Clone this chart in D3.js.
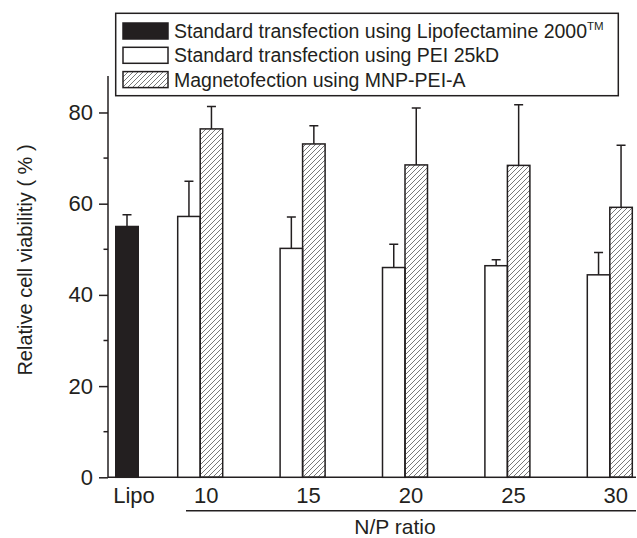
<!DOCTYPE html>
<html lang="en">
<head>
  <meta charset="UTF-8">
  <script src="https://d3js.org/d3.v7.min.js"></script>
  <style>
body{ margin:0; background:#fff; }
text{ font-family: "Liberation Sans", Arial, sans-serif; fill:#231f20; }
.axis path, .axis line{ stroke:#231f20; stroke-width:1.5px; }
.bar{ stroke:#231f20; stroke-width:1.5px; }
.err{ stroke:#231f20; stroke-width:1.5px; fill:none; }
</style>
</head>
<body>
<svg width="637" height="538"></svg>
<script>
// data
const ratios = ["10", "15", "20", "25", "30"];
const lipoVal = 55.0, lipoErr = 2.6;
const peiVals = [57.2, 50.2, 46.0, 46.4, 44.4];
const peiErr  = [7.7, 6.9, 5.1, 1.3, 4.9];
const mnpVals = [76.4, 73.1, 68.5, 68.4, 59.2];
const mnpErr  = [4.9, 4.0, 12.5, 13.3, 13.6];
const yTicks = [0, 20, 40, 60, 80];
const yMinor = [10, 30, 50, 70];
const legendLabels = [
  "Standard transfection using Lipofectamine 2000",
  "Standard transfection using PEI 25kD",
  "Magnetofection using MNP-PEI-A"
];

const svg = d3.select("svg");
const mLeft = 108, mRight = 636, mTop = 76, mBottom = 477.3;

// hatch pattern
const defs = svg.append("defs");
defs.append("pattern")
  .attr("id", "hatch")
  .attr("patternUnits", "userSpaceOnUse")
  .attr("width", 5).attr("height", 5)
  .append("path")
  .attr("d", "M-1,1 l2,-2 M0,5 l5,-5 M4,6 l2,-2")
  .attr("stroke", "#555").attr("stroke-width", 0.8);

const y = d3.scaleLinear().domain([0, 88]).range([mBottom, mTop]);
const xLipo = d3.scaleBand().domain(["Lipo"]).range([mLeft, 146]);
const xRatio = d3.scaleBand().domain(ratios).range([149, 661]);
const barW = 22.5;

// y axis
const yAxis = svg.append("g").attr("class", "axis")
  .attr("transform", `translate(${mLeft},0)`)
  .call(d3.axisLeft(y).tickValues(yTicks).tickSize(9).tickPadding(6).tickSizeOuter(0));
yAxis.selectAll("text").style("font-size", "22px");
svg.append("g").attr("class", "axis")
  .selectAll("line").data(yMinor).join("line")
  .attr("x1", mLeft - 4.5).attr("x2", mLeft)
  .attr("y1", d => y(d)).attr("y2", d => y(d));
yAxis.select(".domain").attr("d", `M0,${mTop}V${mBottom}`);

// x axis line
svg.append("line")
  .attr("x1", mLeft).attr("x2", mRight)
  .attr("y1", mBottom).attr("y2", mBottom)
  .attr("stroke", "#231f20").attr("stroke-width", 1.5);

// Lipo bar
const lc = xLipo("Lipo") + xLipo.bandwidth() / 2;
svg.append("rect").attr("class", "bar")
  .attr("x", lc - barW / 2).attr("width", barW)
  .attr("y", y(lipoVal)).attr("height", y(0) - y(lipoVal))
  .attr("fill", "#231f20");

function errBar(cx, v, e) {
  svg.append("path").attr("class", "err")
    .attr("d", `M${cx},${y(v)}V${y(v + e)}M${cx - 4.5},${y(v + e)}H${cx + 4.5}`);
}
errBar(lc, lipoVal, lipoErr);

ratios.forEach((r, i) => {
  const c = xRatio(r) + xRatio.bandwidth() / 2;
  svg.append("rect").attr("class", "bar")
    .attr("x", c - barW).attr("width", barW)
    .attr("y", y(peiVals[i])).attr("height", y(0) - y(peiVals[i]))
    .attr("fill", "#fff");
  svg.append("rect").attr("class", "bar")
    .attr("x", c).attr("width", barW)
    .attr("y", y(mnpVals[i])).attr("height", y(0) - y(mnpVals[i]))
    .attr("fill", "url(#hatch)");
  errBar(c - barW / 2, peiVals[i], peiErr[i]);
  errBar(c + barW / 2, mnpVals[i], mnpErr[i]);
});

// x labels
svg.append("text").attr("x", lc + 7).attr("y", 503)
  .attr("text-anchor", "middle").style("font-size", "22px").text("Lipo");
svg.selectAll(".xl").data(ratios).join("text")
  .attr("x", d => xRatio(d) + xRatio.bandwidth() / 2 + 6).attr("y", 503)
  .attr("text-anchor", "middle").style("font-size", "22px").text(d => d);
svg.append("line")
  .attr("x1", 186).attr("x2", mRight)
  .attr("y1", 510.7).attr("y2", 510.7)
  .attr("stroke", "#231f20").attr("stroke-width", 1.5);
svg.append("text").attr("x", 395).attr("y", 534)
  .attr("text-anchor", "middle").style("font-size", "21px").text("N/P ratio");

// y label
svg.append("text")
  .attr("transform", "translate(32,260) rotate(-90)")
  .attr("text-anchor", "middle").style("font-size", "20px")
  .text("Relative cell viabilitiy ( % )");

// legend
const lg = svg.append("g");
lg.append("rect").attr("x", 115.7).attr("y", 13.3)
  .attr("width", 502.6).attr("height", 82.4)
  .attr("fill", "#fff").attr("stroke", "#231f20").attr("stroke-width", 1.5);
const fills = ["#231f20", "#fff", "url(#hatch)"];
legendLabels.forEach((t, i) => {
  const cy = 31 + i * 24.3;
  lg.append("rect").attr("class", "bar")
    .attr("x", 123).attr("y", cy - 8).attr("width", 45).attr("height", 16)
    .attr("fill", fills[i]);
  const tx = lg.append("text").attr("x", 174).attr("y", cy + 7)
    .style("font-size", "19.5px").text(t);
  if (i === 0) {
    tx.append("tspan").attr("dy", -8).style("font-size", "11.5px").text("TM");
  }
});
</script>
</body>
</html>
